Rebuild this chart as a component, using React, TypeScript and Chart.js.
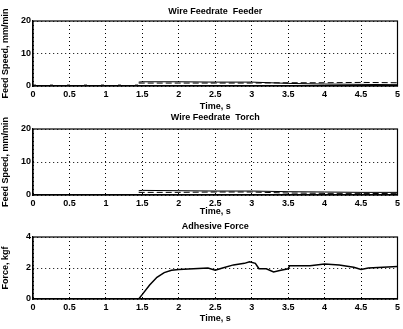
import React, { useEffect, useRef } from "react";
import { Chart, registerables } from "chart.js";
Chart.register(...registerables);

const xTicks = ["0", "0.5", "1", "1.5", "2", "2.5", "3", "3.5", "4", "4.5", "5"];

// Panel 1: Wire Feedrate Feeder
const feederIdleX = [0, 1.45];
const feederIdleY = [0.3, 0.3];
const feederSolidX = [1.45, 1.5, 2.0, 2.5, 3.0, 3.5, 4.0, 4.5, 5.0];
const feederSolidY = [1.2, 1.3, 1.3, 1.2, 1.2, 0.8, 0.6, 0.5, 0.4];
const feederDashX = [1.45, 2.0, 2.5, 3.0, 3.5, 4.0, 4.5, 5.0];
const feederDashY = [0.9, 0.9, 0.9, 0.9, 1.0, 1.0, 1.1, 1.0];

// Panel 2: Wire Feedrate Torch
const torchIdleX = [0, 1.45];
const torchIdleY = [0, 0];
const torchSolidX = [1.45, 1.5, 2.0, 2.5, 3.0, 3.5, 4.0, 4.5, 5.0];
const torchSolidY = [1.3, 1.4, 1.3, 1.2, 1.2, 1.0, 0.9, 0.8, 0.8];
const torchDashX = [1.45, 2.0, 2.5, 3.0, 3.5, 4.0, 4.5, 5.0];
const torchDashY = [0.8, 0.8, 0.9, 0.9, 0.6, 0.5, 0.5, 0.4];

// Panel 3: Adhesive Force
const forceX = [0, 1.45, 1.5, 1.6, 1.7, 1.8, 1.9, 2.0, 2.2, 2.4, 2.5, 2.6, 2.75, 2.9, 2.97, 3.05, 3.1, 3.2, 3.3, 3.4, 3.5, 3.52, 3.8, 4.0, 4.2, 4.4, 4.5, 4.6, 4.8, 5.0];
const forceY = [0, 0, 0.3, 0.9, 1.4, 1.7, 1.85, 1.9, 1.95, 2.0, 1.85, 2.0, 2.2, 2.3, 2.4, 2.3, 1.95, 1.95, 1.75, 1.85, 1.95, 2.15, 2.15, 2.25, 2.2, 2.05, 1.9, 2.0, 2.05, 2.1];

const FONT = "'Liberation Sans', Arial, sans-serif";

const pts = (xs: number[], ys: number[]) => xs.map((x, i) => ({ x, y: ys[i] }));

type Panel = {
  top: number;
  height: number;
  title: string;
  titleY: number;
  padTop: number;
  xAxisH: number;
  xTitlePad: number;
  yMax: number;
  yStep: number;
  yTitle: string;
  datasets: any[];
};

const boxPlugin = {
  id: "box",
  afterDraw(chart: any) {
    const { ctx, chartArea: a } = chart;
    ctx.save();
    ctx.setLineDash([]);
    ctx.strokeStyle = "#000";
    ctx.lineWidth = 1.2;
    ctx.strokeRect(a.left, a.top, a.right - a.left, a.bottom - a.top);
    const t = chart.options.plugins.ptitle;
    ctx.fillStyle = "#000";
    ctx.font = `bold 9px ${FONT}`;
    ctx.textAlign = "center";
    ctx.textBaseline = "middle";
    ctx.fillText(t.text, (a.left + a.right) / 2, t.y);
    ctx.restore();
  },
};

function PanelChart({ p }: { p: Panel }) {
  const ref = useRef<HTMLCanvasElement>(null);
  useEffect(() => {
    const chart = new Chart(ref.current!, {
      type: "line",
      data: { datasets: p.datasets },
      plugins: [boxPlugin],
      options: {
        animation: false,
        responsive: false,
        maintainAspectRatio: false,
        layout: { padding: { top: p.padTop, right: 3, left: 0, bottom: 0 } },
        plugins: {
          legend: { display: false },
          tooltip: { enabled: false },
          title: { display: false },
          ptitle: { text: p.title, y: p.titleY },
        } as any,
        scales: {
          x: {
            type: "linear",
            min: 0,
            max: 5,
            afterFit: (s: any) => { s.height = p.xAxisH; },
            afterBuildTicks: (s: any) => { s.ticks = xTicks.map((t) => ({ value: parseFloat(t) })); },
            ticks: {
              autoSkip: false,
              maxRotation: 0,
              padding: 3,
              color: "#000",
              font: { family: FONT, size: 9, weight: "bold" },
              callback: (v: any) => xTicks.find((t) => parseFloat(t) === v) ?? "",
            },
            grid: { color: "#000", lineWidth: 1, drawTicks: false },
            border: { color: "#000", width: 1.2, dash: [1, 3] },
            title: {
              display: true,
              text: "Time, s",
              color: "#000",
              font: { family: FONT, size: 9, weight: "bold" },
              padding: { top: 0, bottom: p.xTitlePad },
            },
          } as any,
          y: {
            min: 0,
            max: p.yMax,
            afterFit: (s: any) => { s.width = 33; },
            ticks: {
              stepSize: p.yStep,
              padding: 2,
              color: "#000",
              font: { family: FONT, size: 9, weight: "bold" },
            },
            grid: { color: "#000", lineWidth: 1, drawTicks: false },
            border: { color: "#000", width: 1.2, dash: [1, 3] },
            title: {
              display: true,
              text: p.yTitle,
              color: "#000",
              font: { family: FONT, size: 9, weight: "bold" },
              padding: { top: 0, bottom: 0 },
            },
          } as any,
        },
      },
    });
    return () => chart.destroy();
  }, []);
  return (
    <canvas
      ref={ref}
      width={403}
      height={p.height}
      style={{ position: "absolute", left: 0, top: p.top, width: 403, height: p.height }}
    />
  );
}

const lineDs = (data: any[], opts: any) => ({
  data,
  borderColor: "#000",
  borderWidth: 1,
  pointRadius: 0,
  tension: 0,
  fill: false,
  ...opts,
});

const panels: Panel[] = [
  {
    top: 0, height: 112, title: "Wire Feedrate  Feeder", titleY: 12, padTop: 21, xAxisH: 26, xTitlePad: 0,
    yMax: 20, yStep: 10, yTitle: "Feed Speed, mm/min",
    datasets: [
      lineDs(pts(feederIdleX, feederIdleY), { borderDash: [3, 14], borderColor: "#222" }),
      lineDs(pts(feederSolidX, feederSolidY), {}),
      lineDs(pts(feederDashX, feederDashY), { borderDash: [6, 3] }),
    ],
  },
  {
    top: 112, height: 105, title: "Wire Feedrate  Torch", titleY: 6, padTop: 17, xAxisH: 22, xTitlePad: 0,
    yMax: 20, yStep: 10, yTitle: "Feed Speed, mm/min",
    datasets: [
      lineDs(pts(torchIdleX, torchIdleY), {}),
      lineDs(pts(torchSolidX, torchSolidY), {}),
      lineDs(pts(torchDashX, torchDashY), { borderDash: [6, 3] }),
    ],
  },
  {
    top: 217, height: 112, title: "Adhesive Force", titleY: 10, padTop: 20, xAxisH: 30, xTitlePad: 5,
    yMax: 4, yStep: 2, yTitle: "Force, kgf",
    datasets: [lineDs(pts(forceX, forceY), { borderWidth: 1.5 })],
  },
];

export default function App() {
  useEffect(() => {
    document.body.style.margin = "0";
    document.body.style.background = "#fff";
  }, []);
  return (
    <div style={{ position: "relative", width: 403, height: 329, background: "#fff" }}>
      {panels.map((p, i) => (
        <PanelChart key={i} p={p} />
      ))}
    </div>
  );
}
